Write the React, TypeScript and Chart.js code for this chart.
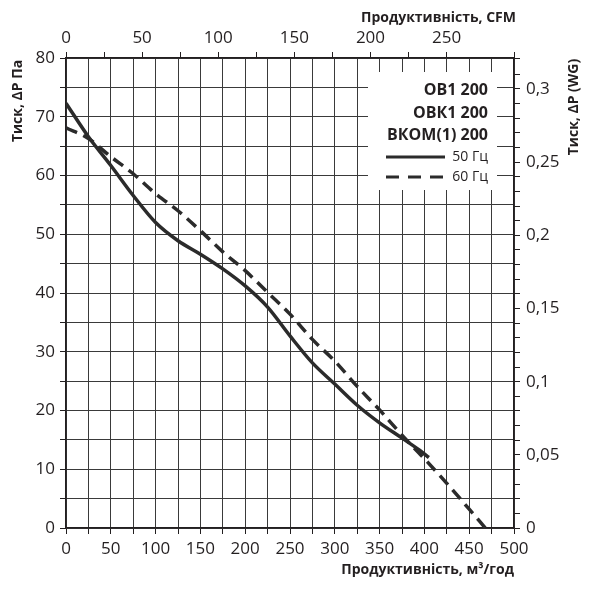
import React, { useEffect, useRef } from 'react';
import { Chart, registerables } from 'chart.js';

Chart.register(...registerables);

// flow (m³/h) and pressure (Pa)
const flow50 = [0, 25, 50, 75, 100, 125, 150, 175, 200, 225, 250, 275, 300, 325, 350, 375, 395, 405];
const pressure50 = [72.3, 66.6, 61.7, 56.6, 52.0, 48.9, 46.6, 44.1, 41.2, 37.6, 32.7, 28.1, 24.5, 20.9, 17.9, 15.3, 13.2, 12.0];

const flow60 = [0, 25, 50, 75, 100, 125, 150, 175, 200, 225, 250, 275, 300, 325, 350, 375, 400, 425, 450, 468];
const pressure60 = [68.1, 66.3, 63.2, 60.3, 56.9, 54.0, 50.6, 47.0, 43.8, 40.1, 36.4, 32.1, 28.4, 24.1, 20.1, 15.8, 11.8, 7.6, 3.2, 0];

const seriesNames = ['50 Гц', '60 Гц'];
const modelNames = ['ОВ1 200', 'ОВК1 200', 'ВКОМ(1) 200'];

const FLOW_MAX = 500;
const PA_MAX = 80;
const M3H_PER_CFM = 1.699;
const PA_PER_INWG = 249.09;

const INK = '#231f20';
const LINE = '#2b2b2b';
const GRID = '#3a3a3a';
const FONT = "'Open Sans', sans-serif";

const titles = {
  top: 'Продуктивність, CFM',
  bottom: 'Продуктивність, м³/год',
  left: 'Тиск, ΔP Па',
  right: 'Тиск, ΔP (WG)',
};

const overlayPlugin = {
  id: 'overlay',
  beforeDatasetsDraw(chart: any) {
    const ctx = chart.ctx;
    ctx.save();
    // white box behind the legend block
    ctx.fillStyle = '#fff';
    ctx.fillRect(368, 72, 129, 118);

    ctx.fillStyle = INK;
    ctx.textAlign = 'right';
    ctx.textBaseline = 'middle';
    ctx.font = `bold 16px ${FONT}`;
    const rows = [90, 113, 135];
    modelNames.forEach((n, i) => ctx.fillText(n, 488, rows[i]));

    ctx.font = `14px ${FONT}`;
    ctx.strokeStyle = LINE;
    ctx.lineWidth = 3;
    ctx.beginPath();
    ctx.moveTo(386, 157);
    ctx.lineTo(445, 157);
    ctx.stroke();
    ctx.fillText(seriesNames[0], 488, 157);

    ctx.setLineDash([13, 9]);
    ctx.beginPath();
    ctx.moveTo(386, 177);
    ctx.lineTo(445, 177);
    ctx.stroke();
    ctx.setLineDash([]);
    ctx.fillText(seriesNames[1], 488, 177);
    ctx.restore();
  },
  afterDraw(chart: any) {
    const ctx = chart.ctx;
    ctx.save();
    ctx.fillStyle = INK;
    ctx.font = `bold 14px ${FONT}`;
    ctx.textBaseline = 'middle';
    ctx.textAlign = 'right';
    ctx.fillText(titles.top, 516, 18);
    ctx.fillText(titles.bottom, 514, 570);

    ctx.textAlign = 'center';
    ctx.translate(18, 101);
    ctx.rotate(-Math.PI / 2);
    ctx.fillText(titles.left, 0, 0);
    ctx.restore();

    ctx.save();
    ctx.fillStyle = INK;
    ctx.font = `bold 14px ${FONT}`;
    ctx.textBaseline = 'middle';
    ctx.textAlign = 'center';
    ctx.translate(574, 107);
    ctx.rotate(-Math.PI / 2);
    ctx.fillText(titles.right, 0, 0);
    ctx.restore();
  },
};

const tickFont = { family: FONT, size: 17 };

const App: React.FC = () => {
  const canvasRef = useRef<HTMLCanvasElement>(null);

  useEffect(() => {
    if (!canvasRef.current) return;
    const chart = new Chart(canvasRef.current, {
      type: 'line',
      data: {
        datasets: [
          {
            label: seriesNames[0],
            data: flow50.map((x, i) => ({ x, y: pressure50[i] })),
            borderColor: LINE,
            borderWidth: 3.5,
            pointRadius: 0,
            cubicInterpolationMode: 'monotone',
            xAxisID: 'x',
            yAxisID: 'y',
          },
          {
            label: seriesNames[1],
            data: flow60.map((x, i) => ({ x, y: pressure60[i] })),
            borderColor: LINE,
            borderWidth: 3.5,
            borderDash: [12, 7],
            pointRadius: 0,
            cubicInterpolationMode: 'monotone',
            xAxisID: 'x',
            yAxisID: 'y',
          },
        ],
      },
      options: {
        animation: false,
        responsive: true,
        maintainAspectRatio: false,
        layout: { padding: 0 },
        plugins: { legend: { display: false }, tooltip: { enabled: false } },
        scales: {
          x: {
            type: 'linear',
            position: 'bottom',
            min: 0,
            max: FLOW_MAX,
            afterFit: (s: any) => { s.height = 62; },
            grid: { color: GRID, lineWidth: 1, tickLength: 6, tickColor: INK },
            border: { color: INK, width: 1.5 },
            ticks: {
              stepSize: 25,
              autoSkip: false,
              maxRotation: 0,
              padding: 5,
              color: INK,
              font: tickFont,
              callback: (v: any) => (Math.round(v) % 50 === 0 ? String(Math.round(v)) : ''),
            },
          },
          x2: {
            type: 'linear',
            position: 'top',
            min: 0,
            max: FLOW_MAX / M3H_PER_CFM,
            afterFit: (s: any) => { s.height = 58; },
            grid: { drawOnChartArea: false, tickLength: 6, tickColor: INK },
            border: { color: INK, width: 1.5 },
            ticks: {
              stepSize: 25,
              autoSkip: false,
              maxRotation: 0,
              padding: 4,
              color: INK,
              font: tickFont,
              callback: (v: any) => (Math.abs(v - Math.round(v)) < 1e-6 && Math.round(v) % 50 === 0 ? String(Math.round(v)) : ''),
            },
          },
          y: {
            type: 'linear',
            position: 'left',
            min: 0,
            max: PA_MAX,
            afterFit: (s: any) => { s.width = 66; },
            grid: { color: GRID, lineWidth: 1, tickLength: 6, tickColor: INK },
            border: { color: INK, width: 1.5 },
            ticks: {
              stepSize: 5,
              autoSkip: false,
              padding: 5,
              color: INK,
              font: tickFont,
              callback: (v: any) => (Math.round(v) % 10 === 0 ? String(Math.round(v)) : ''),
            },
          },
          y2: {
            type: 'linear',
            position: 'right',
            min: 0,
            max: PA_MAX / PA_PER_INWG,
            afterFit: (s: any) => { s.width = 77; },
            grid: { drawOnChartArea: false, tickLength: 6, tickColor: INK },
            border: { color: INK, width: 1.5 },
            ticks: {
              stepSize: 0.01,
              autoSkip: false,
              padding: 6,
              color: INK,
              font: tickFont,
              callback: (v: any) => {
                const h = Math.round(v * 100);
                if (Math.abs(v * 100 - h) > 1e-6 || h % 5 !== 0) return '';
                return String(h / 100).replace('.', ',');
              },
            },
          },
        },
      },
      plugins: [overlayPlugin],
    } as any);
    return () => chart.destroy();
  }, []);

  return (
    <div style={{ position: 'fixed', left: 0, top: 0, width: 591, height: 590, background: '#fff' }}>
      <canvas ref={canvasRef} />
    </div>
  );
};

export default App;
